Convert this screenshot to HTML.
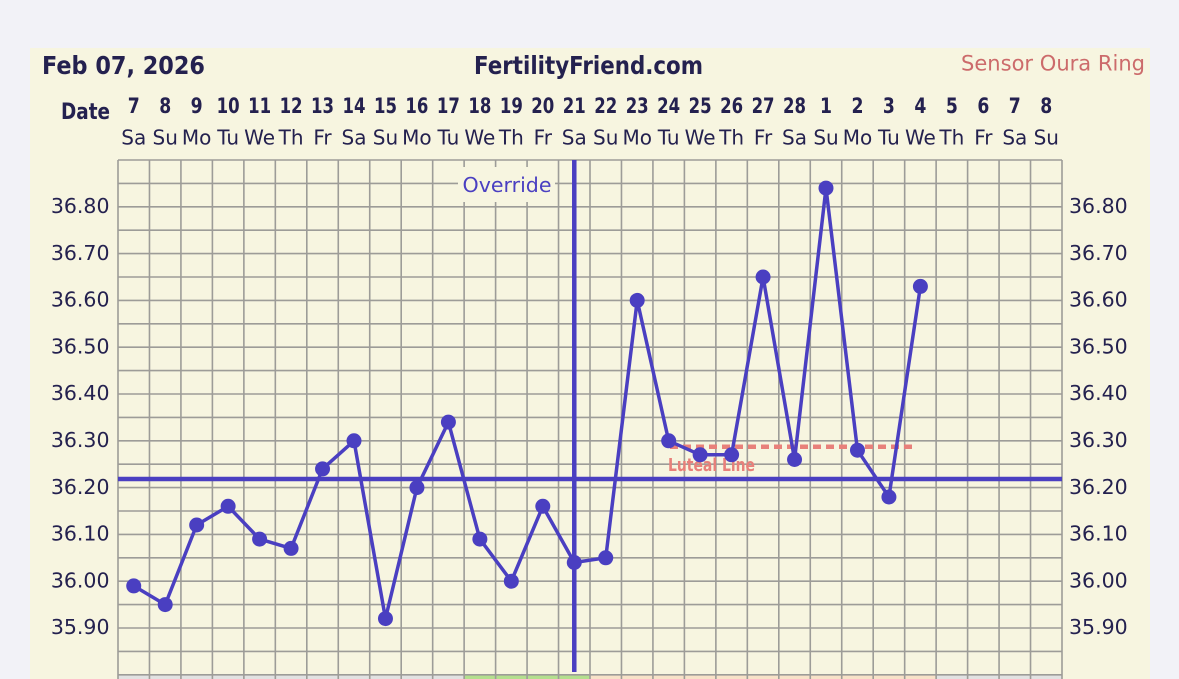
<!DOCTYPE html>
<html>
<head>
<meta charset="utf-8">
<style>
html,body{margin:0;padding:0;background:#f2f2f7;}
svg{display:block;}
</style>
</head>
<body>
<svg width="1179" height="679" viewBox="0 0 1179 679" xmlns="http://www.w3.org/2000/svg">
<rect x="0" y="0" width="1179" height="679" fill="#f2f2f7"/>
<rect x="30" y="48" width="1120" height="640" fill="#f7f5e0"/>

<!-- header -->
<g font-family="DejaVu Sans, Liberation Sans, sans-serif" fill="#24214f">
<text x="42" y="74" font-size="25" font-weight="bold" textLength="163" lengthAdjust="spacingAndGlyphs">Feb 07, 2026</text>
<text x="474" y="74" font-size="25" font-weight="bold" textLength="229" lengthAdjust="spacingAndGlyphs">FertilityFriend.com</text>
<text x="961" y="70.5" font-size="21" fill="#cc6b6b" textLength="184" lengthAdjust="spacingAndGlyphs">Sensor Oura Ring</text>
<text x="61" y="119" font-size="22" font-weight="bold" textLength="49" lengthAdjust="spacingAndGlyphs">Date</text>
</g>

<!-- day numbers -->
<g font-family="DejaVu Sans, Liberation Sans, sans-serif" font-size="21" font-weight="bold" fill="#24214f">
<text x="127.73" y="113" textLength="12" lengthAdjust="spacingAndGlyphs">7</text><text x="159.2" y="113" textLength="12" lengthAdjust="spacingAndGlyphs">8</text><text x="190.67" y="113" textLength="12" lengthAdjust="spacingAndGlyphs">9</text>
<text x="216.63" y="113" textLength="23" lengthAdjust="spacingAndGlyphs">10</text><text x="248.1" y="113" textLength="23" lengthAdjust="spacingAndGlyphs">11</text><text x="279.57" y="113" textLength="23" lengthAdjust="spacingAndGlyphs">12</text><text x="311.03" y="113" textLength="23" lengthAdjust="spacingAndGlyphs">13</text><text x="342.5" y="113" textLength="23" lengthAdjust="spacingAndGlyphs">14</text><text x="373.97" y="113" textLength="23" lengthAdjust="spacingAndGlyphs">15</text><text x="405.43" y="113" textLength="23" lengthAdjust="spacingAndGlyphs">16</text><text x="436.9" y="113" textLength="23" lengthAdjust="spacingAndGlyphs">17</text><text x="468.37" y="113" textLength="23" lengthAdjust="spacingAndGlyphs">18</text><text x="499.83" y="113" textLength="23" lengthAdjust="spacingAndGlyphs">19</text><text x="531.3" y="113" textLength="23" lengthAdjust="spacingAndGlyphs">20</text><text x="562.77" y="113" textLength="23" lengthAdjust="spacingAndGlyphs">21</text><text x="594.23" y="113" textLength="23" lengthAdjust="spacingAndGlyphs">22</text><text x="625.7" y="113" textLength="23" lengthAdjust="spacingAndGlyphs">23</text><text x="657.17" y="113" textLength="23" lengthAdjust="spacingAndGlyphs">24</text><text x="688.63" y="113" textLength="23" lengthAdjust="spacingAndGlyphs">25</text><text x="720.1" y="113" textLength="23" lengthAdjust="spacingAndGlyphs">26</text><text x="751.57" y="113" textLength="23" lengthAdjust="spacingAndGlyphs">27</text><text x="783.03" y="113" textLength="23" lengthAdjust="spacingAndGlyphs">28</text>
<text x="820" y="113" textLength="12" lengthAdjust="spacingAndGlyphs">1</text><text x="851.47" y="113" textLength="12" lengthAdjust="spacingAndGlyphs">2</text><text x="882.93" y="113" textLength="12" lengthAdjust="spacingAndGlyphs">3</text><text x="914.4" y="113" textLength="12" lengthAdjust="spacingAndGlyphs">4</text><text x="945.87" y="113" textLength="12" lengthAdjust="spacingAndGlyphs">5</text><text x="977.33" y="113" textLength="12" lengthAdjust="spacingAndGlyphs">6</text><text x="1008.8" y="113" textLength="12" lengthAdjust="spacingAndGlyphs">7</text><text x="1040.27" y="113" textLength="12" lengthAdjust="spacingAndGlyphs">8</text>
</g>
<!-- weekdays -->
<g font-family="DejaVu Sans, Liberation Sans, sans-serif" font-size="20" fill="#24214f" text-anchor="middle">
<text x="133.73" y="144.5">Sa</text><text x="165.2" y="144.5">Su</text><text x="196.67" y="144.5">Mo</text><text x="228.13" y="144.5">Tu</text><text x="259.6" y="144.5">We</text><text x="291.07" y="144.5">Th</text><text x="322.53" y="144.5">Fr</text><text x="354" y="144.5">Sa</text><text x="385.47" y="144.5">Su</text><text x="416.93" y="144.5">Mo</text><text x="448.4" y="144.5">Tu</text><text x="479.87" y="144.5">We</text><text x="511.33" y="144.5">Th</text><text x="542.8" y="144.5">Fr</text><text x="574.27" y="144.5">Sa</text><text x="605.73" y="144.5">Su</text><text x="637.2" y="144.5">Mo</text><text x="668.67" y="144.5">Tu</text><text x="700.13" y="144.5">We</text><text x="731.6" y="144.5">Th</text><text x="763.07" y="144.5">Fr</text><text x="794.53" y="144.5">Sa</text><text x="826" y="144.5">Su</text><text x="857.47" y="144.5">Mo</text><text x="888.93" y="144.5">Tu</text><text x="920.4" y="144.5">We</text><text x="951.87" y="144.5">Th</text><text x="983.33" y="144.5">Fr</text><text x="1014.8" y="144.5">Sa</text><text x="1046.27" y="144.5">Su</text>
</g>

<!-- bottom strip -->
<rect x="118" y="674.8" width="346.1" height="10" fill="#e2e2e2"/>
<rect x="464.1" y="674.8" width="125.9" height="10" fill="#b4df8e"/>
<rect x="590" y="674.8" width="346.1" height="10" fill="#f8e2c8"/>
<rect x="936.1" y="674.8" width="125.9" height="10" fill="#e2e2e2"/>

<!-- grid -->
<g stroke="#9d9c98" stroke-width="1.6" fill="none">
<path d="M118 160H1062M118 183.4H1062M118 206.8H1062M118 230.2H1062M118 253.6H1062M118 277H1062M118 300.4H1062M118 323.8H1062M118 347.2H1062M118 370.6H1062M118 394H1062M118 417.4H1062M118 440.8H1062M118 464.2H1062M118 487.6H1062M118 511H1062M118 534.4H1062M118 557.8H1062M118 581.2H1062M118 604.6H1062M118 628H1062M118 651.4H1062M118 674.8H1062"/>
<path d="M118 160V690M149.47 160V690M180.93 160V690M212.4 160V690M243.87 160V690M275.33 160V690M306.8 160V690M338.27 160V690M369.73 160V690M401.2 160V690M432.67 160V690M464.13 160V690M495.6 160V690M527.07 160V690M558.53 160V690M590 160V690M621.47 160V690M652.93 160V690M684.4 160V690M715.87 160V690M747.33 160V690M778.8 160V690M810.27 160V690M841.73 160V690M873.2 160V690M904.67 160V690M936.13 160V690M967.6 160V690M999.07 160V690M1030.53 160V690M1062 160V690"/>
</g>

<!-- y labels -->
<g font-family="DejaVu Sans, Liberation Sans, sans-serif" font-size="20.5" fill="#24214f">
<g text-anchor="end">
<text x="109.5" y="213">36.80</text><text x="109.5" y="259.8">36.70</text><text x="109.5" y="306.6">36.60</text><text x="109.5" y="353.4">36.50</text><text x="109.5" y="400.2">36.40</text><text x="109.5" y="447">36.30</text><text x="109.5" y="493.8">36.20</text><text x="109.5" y="540.6">36.10</text><text x="109.5" y="587.4">36.00</text><text x="109.5" y="634.2">35.90</text>
</g>
<g>
<text x="1069" y="213">36.80</text><text x="1069" y="259.8">36.70</text><text x="1069" y="306.6">36.60</text><text x="1069" y="353.4">36.50</text><text x="1069" y="400.2">36.40</text><text x="1069" y="447">36.30</text><text x="1069" y="493.8">36.20</text><text x="1069" y="540.6">36.10</text><text x="1069" y="587.4">36.00</text><text x="1069" y="634.2">35.90</text>
</g>
</g>

<!-- override label -->
<rect x="458" y="167" width="97" height="35" fill="#f7f5e0"/>
<text x="462.5" y="192" font-family="DejaVu Sans, Liberation Sans, sans-serif" font-size="20.5" fill="#4a3fc1" textLength="89" lengthAdjust="spacingAndGlyphs">Override</text>
<line x1="574.27" y1="160" x2="574.27" y2="672" stroke="#4a3fc1" stroke-width="4.5"/>

<!-- coverline -->
<line x1="118" y1="479" x2="1062" y2="479" stroke="#4a3fc1" stroke-width="4.5"/>

<!-- luteal line -->
<line x1="670" y1="446.7" x2="915" y2="446.7" stroke="#e8807a" stroke-width="4.5" stroke-dasharray="8 5"/>
<text x="668" y="471" font-family="DejaVu Sans, Liberation Sans, sans-serif" font-size="18" font-weight="bold" fill="#e8807a" textLength="87" lengthAdjust="spacingAndGlyphs">Luteal Line</text>

<!-- series -->
<polyline fill="none" stroke="#4a3fc1" stroke-width="3.5" stroke-linejoin="round" points="133.73,585.9 165.2,604.6 196.67,525 228.13,506.3 259.6,539.1 291.07,548.4 322.53,468.9 354,440.8 385.47,618.6 416.93,487.6 448.4,422.1 479.87,539.1 511.33,581.2 542.8,506.3 574.27,562.5 605.73,557.8 637.2,300.4 668.67,440.8 700.13,454.8 731.6,454.8 763.07,277 794.53,459.5 826,188.1 857.47,450.2 888.93,497 920.4,286.4"/>
<g fill="#4a3fc1">
<circle cx="133.73" cy="585.9" r="7.5"/><circle cx="165.2" cy="604.6" r="7.5"/><circle cx="196.67" cy="525" r="7.5"/><circle cx="228.13" cy="506.3" r="7.5"/><circle cx="259.6" cy="539.1" r="7.5"/><circle cx="291.07" cy="548.4" r="7.5"/><circle cx="322.53" cy="468.9" r="7.5"/><circle cx="354" cy="440.8" r="7.5"/><circle cx="385.47" cy="618.6" r="7.5"/><circle cx="416.93" cy="487.6" r="7.5"/><circle cx="448.4" cy="422.1" r="7.5"/><circle cx="479.87" cy="539.1" r="7.5"/><circle cx="511.33" cy="581.2" r="7.5"/><circle cx="542.8" cy="506.3" r="7.5"/><circle cx="574.27" cy="562.5" r="7.5"/><circle cx="605.73" cy="557.8" r="7.5"/><circle cx="637.2" cy="300.4" r="7.5"/><circle cx="668.67" cy="440.8" r="7.5"/><circle cx="700.13" cy="454.8" r="7.5"/><circle cx="731.6" cy="454.8" r="7.5"/><circle cx="763.07" cy="277" r="7.5"/><circle cx="794.53" cy="459.5" r="7.5"/><circle cx="826" cy="188.1" r="7.5"/><circle cx="857.47" cy="450.2" r="7.5"/><circle cx="888.93" cy="497" r="7.5"/><circle cx="920.4" cy="286.4" r="7.5"/>
</g>
</svg>
</body>
</html>
